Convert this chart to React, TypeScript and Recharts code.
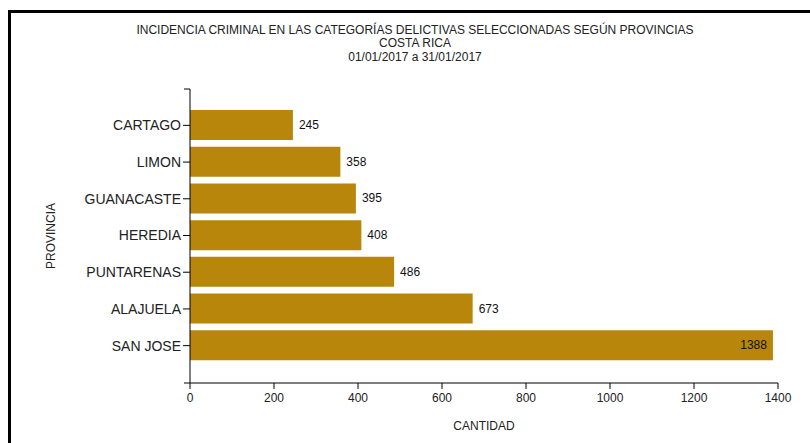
import { BarChart, Bar, XAxis, YAxis, LabelList } from 'recharts'

const provincias = ['CARTAGO', 'LIMON', 'GUANACASTE', 'HEREDIA', 'PUNTARENAS', 'ALAJUELA', 'SAN JOSE']
const cantidades = [245, 358, 395, 408, 486, 673, 1388]
const xTicks = [0, 200, 400, 600, 800, 1000, 1200, 1400]
const titulo = [
  'INCIDENCIA CRIMINAL EN LAS CATEGORÍAS DELICTIVAS SELECCIONADAS SEGÚN PROVINCIAS',
  'COSTA RICA',
  '01/01/2017 a 31/01/2017',
]

const data = provincias.map((p, i) => ({ provincia: p, cantidad: cantidades[i] }))

const font = '"Liberation Sans", Arial, sans-serif'
const textColor = '#222'
const barColor = '#B8860B'
const plotRight = 778

// y axis title plus the little outer ticks at both ends of the axis line
function ProvinciaLabel(props: any) {
  const { x, y, width, height } = props.viewBox
  const cx = x + 51
  const cy = y + height / 2
  const ax = x + width
  return (
    <g>
      <text
        x={cx}
        y={cy}
        transform={`rotate(-90, ${cx}, ${cy})`}
        textAnchor="middle"
        dominantBaseline="central"
        fontSize={12}
        fontFamily={font}
        fill={textColor}
      >
        PROVINCIA
      </text>
      <line x1={ax - 6} y1={y} x2={ax} y2={y} stroke="#000" />
      <line x1={ax - 6} y1={y + height} x2={ax} y2={y + height} stroke="#000" />
    </g>
  )
}

function ValueLabel(props: any) {
  const { x, y, width, height, value } = props
  const end = x + width
  const inside = end + 40 > plotRight
  return (
    <text
      x={inside ? end - 6 : end + 6}
      y={y + height / 2}
      textAnchor={inside ? 'end' : 'start'}
      dominantBaseline="central"
      fontSize={12}
      fontFamily={font}
      fill="#111"
    >
      {value}
    </text>
  )
}

export default function App() {
  return (
    <div style={{ position: 'absolute', left: 0, top: 0, width: 810, height: 443, background: '#fff' }}>
      <div
        style={{
          position: 'absolute',
          left: 8,
          top: 10,
          width: 802,
          height: 433,
          boxSizing: 'border-box',
          borderTop: '3px solid #000',
          borderLeft: '3px solid #000',
        }}
      />
      <div
        style={{
          position: 'absolute',
          left: 0,
          top: 24,
          width: 830,
          textAlign: 'center',
          fontFamily: font,
          fontSize: 12,
          lineHeight: '13.4px',
          color: textColor,
        }}
      >
        {titulo.map((t) => (
          <div key={t}>{t}</div>
        ))}
      </div>
      <div style={{ position: 'absolute', left: 0, top: 0 }}>
        <BarChart
          width={810}
          height={443}
          data={data}
          layout="vertical"
          margin={{ top: 89, right: 810 - plotRight, bottom: 0, left: 0 }}
        >
          <XAxis
            type="number"
            domain={[0, 1400]}
            ticks={xTicks}
            height={60}
            stroke="#000"
            tickSize={6}
            tickMargin={4}
            tick={{ fontSize: 12, fontFamily: font, fill: textColor }}
            label={{
              value: 'CANTIDAD',
              position: 'insideBottom',
              offset: 13,
              fontSize: 12,
              fontFamily: font,
              fill: textColor,
            }}
          />
          <YAxis
            type="category"
            dataKey="provincia"
            width={190}
            stroke="#000"
            tickSize={7}
            tickMargin={2}
            padding={{ top: 18, bottom: 19 }}
            tick={{ fontSize: 14, fontFamily: font, fill: textColor }}
            label={<ProvinciaLabel />}
          />
          <Bar dataKey="cantidad" fill={barColor} barSize={30} isAnimationActive={false}>
            <LabelList dataKey="cantidad" content={<ValueLabel />} />
          </Bar>
        </BarChart>
      </div>
    </div>
  )
}
